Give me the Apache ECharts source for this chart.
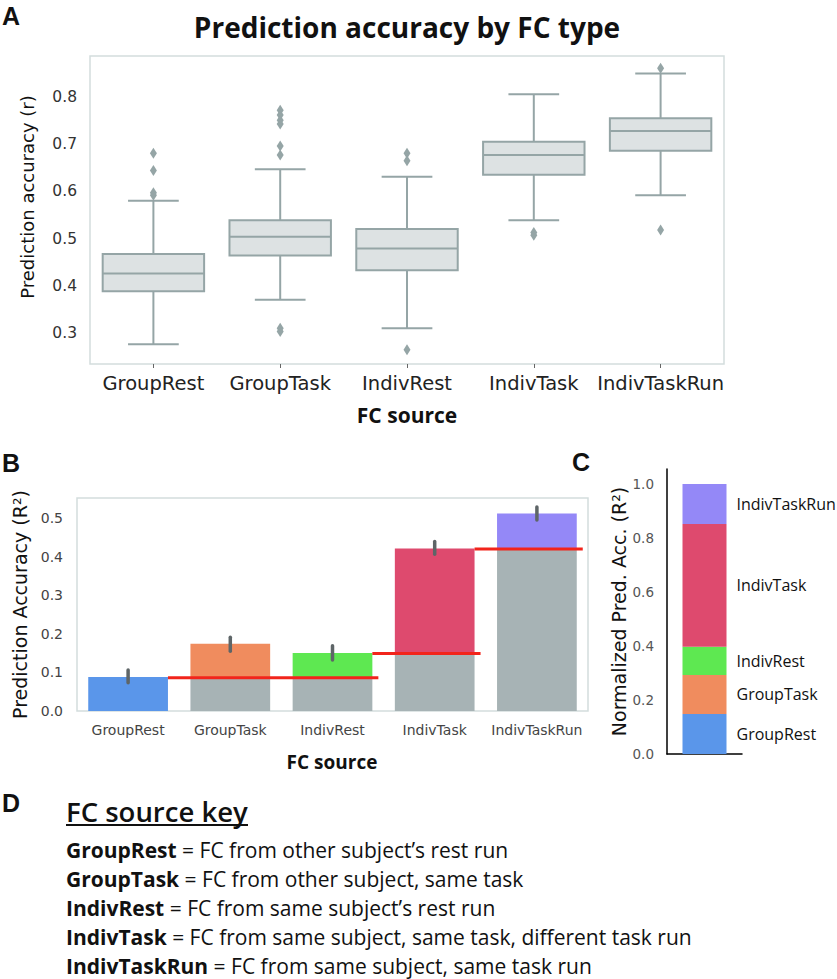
<!DOCTYPE html>
<html><head><meta charset="utf-8">
<script src="https://cdn.jsdelivr.net/npm/echarts@6/dist/echarts.min.js"></script>
<style>html,body{margin:0;padding:0;background:#fff}#c{width:837px;height:979px}</style>
</head><body><div id="c"></div>
<script>
// ---------- DATA ----------
const sources = ['GroupRest', 'GroupTask', 'IndivRest', 'IndivTask', 'IndivTaskRun'];
// Panel A: box statistics (prediction accuracy r)
const boxLow  = [0.276, 0.370, 0.310, 0.539, 0.592];
const boxQ1   = [0.388, 0.464, 0.433, 0.635, 0.686];
const boxMed  = [0.426, 0.504, 0.479, 0.677, 0.728];
const boxQ3   = [0.467, 0.539, 0.520, 0.705, 0.755];
const boxHigh = [0.580, 0.647, 0.631, 0.806, 0.850];
const outGroupRest    = [0.681, 0.644, 0.597, 0.592];
const outGroupTask    = [0.772, 0.762, 0.751, 0.743, 0.696, 0.677, 0.310, 0.303];
const outIndivRest    = [0.681, 0.665, 0.264];
const outIndivTask    = [0.513, 0.507];
const outIndivTaskRun = [0.861, 0.518];
const ticksA = [0.3, 0.4, 0.5, 0.6, 0.7, 0.8];
// Panel B: prediction accuracy R^2
const accR2   = [0.088, 0.174, 0.150, 0.421, 0.512];
const baseR2  = [0, 0.086, 0.086, 0.149, 0.420];
const errLow  = [0.073, 0.155, 0.132, 0.406, 0.495];
const errHigh = [0.106, 0.191, 0.169, 0.439, 0.529];
const refFrom  = ['GroupRest', 'IndivRest', 'IndivTask'];
const refTo    = ['IndivRest', 'IndivTask', 'IndivTaskRun'];
const refLevel = [0.086, 0.149, 0.420];
const ticksB = [0, 0.1, 0.2, 0.3, 0.4, 0.5];
// Panel C: normalized prediction accuracy shares
const normShare = [0.148, 0.145, 0.104, 0.455, 0.148];
const ticksC = [0, 0.2, 0.4, 0.6, 0.8, 1.0];
// Panel D: key
const keyTerms = ['GroupRest', 'GroupTask', 'IndivRest', 'IndivTask', 'IndivTaskRun'];
const keyDesc = [
  'FC from other subject\u2019s rest run',
  'FC from other subject, same task',
  'FC from same subject\u2019s rest run',
  'FC from same subject, same task, different task run',
  'FC from same subject, same task run'
];

// ---------- STYLE ----------
const colors = ['#5a96ea', '#f08c5e', '#5ee851', '#de4a6e', '#9488f7'];
const boxStroke = '#95a5a6', boxFill = '#dde2e3';
const frameColor = '#d3dddd';
const dv = 'DejaVu Sans';
const os = 'Open Sans';

const boxData = sources.map((s, i) => [i, boxLow[i], boxQ1[i], boxMed[i], boxQ3[i], boxHigh[i]]);
const outliers = [outGroupRest, outGroupTask, outIndivRest, outIndivTask, outIndivTaskRun];
const outData = [];
outliers.forEach((arr, i) => arr.forEach(v => outData.push([i, v])));

function renderBox(params, api) {
  const i = api.value(0);
  const band = api.size([1, 0])[0];
  const half = band * 0.4, cap = band * 0.2;
  const x = api.coord([i, api.value(3)])[0];
  const yL = api.coord([i, api.value(1)])[1];
  const y1 = api.coord([i, api.value(2)])[1];
  const ym = api.coord([i, api.value(3)])[1];
  const y3 = api.coord([i, api.value(4)])[1];
  const yH = api.coord([i, api.value(5)])[1];
  const ls = { stroke: boxStroke, lineWidth: 2, fill: null };
  return { type: 'group', children: [
    { type: 'line', shape: { x1: x, y1: yH, x2: x, y2: y3 }, style: ls },
    { type: 'line', shape: { x1: x, y1: y1, x2: x, y2: yL }, style: ls },
    { type: 'line', shape: { x1: x - cap, y1: yH, x2: x + cap, y2: yH }, style: ls },
    { type: 'line', shape: { x1: x - cap, y1: yL, x2: x + cap, y2: yL }, style: ls },
    { type: 'rect', shape: { x: x - half, y: y3, width: 2 * half, height: y1 - y3 }, style: { fill: boxFill, stroke: boxStroke, lineWidth: 2 } },
    { type: 'line', shape: { x1: x - half, y1: ym, x2: x + half, y2: ym }, style: ls }
  ]};
}

const errData = sources.map((s, i) => [i, errLow[i], errHigh[i]]);
function renderErr(params, api) {
  const i = api.value(0);
  const p1 = api.coord([i, api.value(1)]);
  const p2 = api.coord([i, api.value(2)]);
  return { type: 'line', shape: { x1: p1[0], y1: p1[1], x2: p2[0], y2: p2[1] },
    style: { stroke: '#5e6567', lineWidth: 3.5, lineCap: 'round' } };
}
const refData = refLevel.map((v, k) => [sources.indexOf(refFrom[k]), sources.indexOf(refTo[k]), v]);
function renderRef(params, api) {
  const band = api.size([1, 0])[0];
  const a = api.coord([api.value(0), api.value(2)]);
  const b = api.coord([api.value(1), api.value(2)]);
  return { type: 'line', shape: { x1: a[0] + band * 0.39, y1: a[1], x2: b[0] + band * 0.39 + 6, y2: b[1] },
    style: { stroke: '#f2241b', lineWidth: 3 } };
}

const gainData = sources.map((s, i) => ({ value: +(accR2[i] - baseR2[i]).toFixed(4), itemStyle: { color: colors[i] } }));

function panelLabel(t, x, y) {
  return { type: 'text', x: x, y: y, style: { text: t, fontFamily: 'Liberation Sans', fontSize: 25, fontWeight: 'bold', fill: '#111',
    align: 'left', verticalAlign: 'middle', textAlign: 'left', textVerticalAlign: 'middle' } };
}
function ctext(t, x, y, size, weight) {
  return { type: 'text', x: x, y: y, style: { text: t, fontFamily: os, fontSize: size, fontWeight: weight, fill: '#111',
    align: 'center', verticalAlign: 'middle', textAlign: 'center', textVerticalAlign: 'middle' } };
}

const graphics = [
  panelLabel('A', 2, 16),
  panelLabel('B', 2, 463),
  panelLabel('C', 572, 462),
  panelLabel('D', 2, 803),
  ctext('Prediction accuracy by FC type', 407, 27, 28, 'bold'),
  ctext('FC source', 407, 415, 21, 'bold'),
  ctext('FC source', 332, 762, 19, 'bold'),
  { type: 'text', x: 66, y: 811, style: { text: 'FC source key', fontFamily: os, fontSize: 27.5, fontWeight: 600, fill: '#111',
    align: 'left', verticalAlign: 'middle', textAlign: 'left', textVerticalAlign: 'middle' } },
  { type: 'line', shape: { x1: 66, y1: 825, x2: 248, y2: 825 }, style: { stroke: '#111', lineWidth: 2 } }
];
keyTerms.forEach((t, k) => {
  graphics.push({ type: 'text', x: 66, y: 850 + k * 29, style: {
    text: '{b|' + t + '}{n| = ' + keyDesc[k] + '}',
    align: 'left', verticalAlign: 'middle', textAlign: 'left', textVerticalAlign: 'middle',
    fontFamily: os, fontSize: 21, fill: '#111',
    rich: { b: { fontFamily: os, fontSize: 21, fontWeight: 'bold', fill: '#111', color: '#111' },
            n: { fontFamily: os, fontSize: 21, fontWeight: 'normal', fill: '#111', color: '#111' } }
  }});
});

const option = {
  animation: false,
  backgroundColor: '#fff',
  grid: [
    { left: 90, top: 56, width: 634, height: 308, show: true, borderColor: frameColor, borderWidth: 1.5, backgroundColor: 'transparent' },
    { left: 77, top: 498, width: 511, height: 213, show: true, borderColor: frameColor, borderWidth: 1.5, backgroundColor: 'transparent' },
    { left: 667, top: 469, width: 75, height: 285 }
  ],
  xAxis: [
    { type: 'category', gridIndex: 0, data: sources, axisLine: { show: false },
      axisTick: { show: true, alignWithLabel: true, length: 4, lineStyle: { color: '#666', width: 1 } },
      axisLabel: { interval: 0, fontFamily: dv, fontSize: 19.5, color: '#222', margin: 9 } },
    { type: 'category', gridIndex: 1, data: sources, axisLine: { show: false }, axisTick: { show: false },
      axisLabel: { interval: 0, fontFamily: dv, fontSize: 14, color: '#444', margin: 12 } },
    { type: 'category', gridIndex: 2, data: ['Normalized'], axisLine: { show: true, lineStyle: { color: '#000', width: 1.5 } },
      axisTick: { show: false }, axisLabel: { show: false } }
  ],
  yAxis: [
    { type: 'value', gridIndex: 0, min: 0.234, max: 0.887, splitLine: { show: false }, axisLine: { show: false }, axisTick: { show: false },
      axisLabel: { customValues: ticksA, formatter: v => v.toFixed(1), fontFamily: dv, fontSize: 15.5, color: '#333', margin: 13 },
      name: 'Prediction accuracy (r)', nameLocation: 'middle', nameGap: 54,
      nameTextStyle: { fontFamily: dv, fontSize: 18, color: '#111', padding: [0, 0, 0, 26] } },
    { type: 'value', gridIndex: 1, min: 0, max: 0.552, splitLine: { show: false }, axisLine: { show: false }, axisTick: { show: false },
      axisLabel: { customValues: ticksB, formatter: v => v.toFixed(1), fontFamily: dv, fontSize: 14, color: '#444', margin: 14 },
      name: 'Prediction Accuracy (R\u00b2)', nameLocation: 'middle', nameGap: 46, nameTextStyle: { fontFamily: dv, fontSize: 19, color: '#111' } },
    { type: 'value', gridIndex: 2, min: 0, max: 1.0556, splitLine: { show: false }, axisLine: { show: true, lineStyle: { color: '#000', width: 1.5 } }, axisTick: { show: false },
      axisLabel: { customValues: ticksC, formatter: v => v.toFixed(1), fontFamily: dv, fontSize: 13.5, color: '#555', margin: 13 },
      name: 'Normalized Pred. Acc. (R\u00b2)', nameLocation: 'middle', nameGap: 38, nameTextStyle: { fontFamily: dv, fontSize: 19, color: '#111' } }
  ],
  graphic: { elements: graphics },
  series: [
    { type: 'custom', name: 'box', xAxisIndex: 0, yAxisIndex: 0, data: boxData, renderItem: renderBox,
      encode: { x: 0, y: [1, 2, 3, 4, 5] }, z: 2 },
    { type: 'scatter', name: 'outliers', xAxisIndex: 0, yAxisIndex: 0, data: outData, symbol: 'diamond', symbolSize: [7, 11],
      itemStyle: { color: boxStroke, opacity: 1 }, z: 3 },
    { type: 'bar', name: 'base', xAxisIndex: 1, yAxisIndex: 1, stack: 'b', data: baseR2, barWidth: '78%',
      itemStyle: { color: '#a7b3b5' } },
    { type: 'bar', name: 'gain', xAxisIndex: 1, yAxisIndex: 1, stack: 'b', data: gainData, barWidth: '78%' },
    { type: 'custom', name: 'ref', xAxisIndex: 1, yAxisIndex: 1, data: refData, renderItem: renderRef,
      encode: { x: [0, 1], y: 2 }, z: 5 },
    { type: 'custom', name: 'err', xAxisIndex: 1, yAxisIndex: 1, data: errData, renderItem: renderErr,
      encode: { x: 0, y: [1, 2] }, z: 6 }
  ].concat(sources.map((s, i) => ({
    type: 'bar', name: s, xAxisIndex: 2, yAxisIndex: 2, stack: 'n', data: [normShare[i]], barWidth: 44,
    itemStyle: { color: colors[i] },
    label: { show: true, position: 'right', distance: 10, formatter: '{a}', color: '#111', fontFamily: os, fontSize: 16 }
  })))
};

const chart = echarts.init(document.getElementById('c'), null, { renderer: 'svg' });
chart.setOption(option);
</script>
</body></html>
